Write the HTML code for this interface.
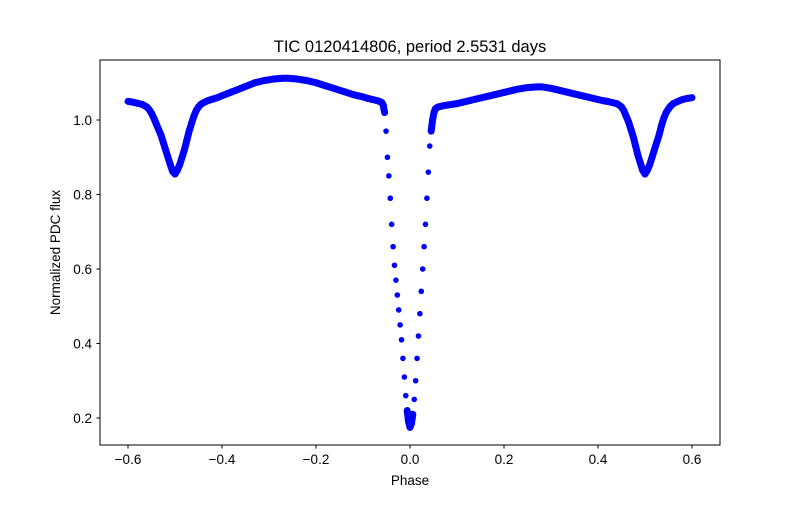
<!DOCTYPE html>
<html><head><meta charset="utf-8"><style>
body{margin:0;background:#fff;}
svg text{font-family:"Liberation Sans","DejaVu Sans",sans-serif;fill:#000;}
</style></head><body>
<svg id="chart" width="800" height="500">
<rect width="800" height="500" fill="#fff"/>
<text x="410" y="52" font-size="16.5" text-anchor="middle">TIC 0120414806, period 2.5531 days</text>
<g id="marks"></g>
<rect x="100" y="60" width="620" height="385" fill="none" stroke="#000" stroke-width="1"/>
<g id="axes"></g>
<text x="410" y="485" font-size="13.5" text-anchor="middle">Phase</text>
<text transform="translate(60,252.5) rotate(-90)" font-size="13.5" text-anchor="middle">Normalized PDC flux</text>
</svg>
<script>
const phase = [
-0.6,-0.59,-0.58,-0.57,-0.56,-0.555,-0.55,-0.545,-0.54,-0.535,
-0.53,-0.525,-0.52,-0.515,-0.51,-0.505,-0.5,-0.495,-0.49,-0.485,
-0.48,-0.475,-0.47,-0.465,-0.46,-0.455,-0.45,-0.445,-0.44,-0.43,
-0.42,-0.41,-0.4,-0.39,-0.38,-0.37,-0.36,-0.35,-0.34,-0.33,
-0.32,-0.31,-0.3,-0.29,-0.28,-0.27,-0.26,-0.25,-0.24,-0.23,
-0.22,-0.21,-0.2,-0.19,-0.18,-0.17,-0.16,-0.15,-0.14,-0.13,
-0.12,-0.11,-0.1,-0.09,-0.08,-0.07,-0.065,-0.06,-0.057,-0.054,
-0.051,-0.048,-0.045,-0.042,-0.039,-0.036,-0.033,-0.03,-0.027,-0.024,
-0.021,-0.018,-0.015,-0.012,-0.009,-0.006,-0.003,0,0.003,0.006,
0.009,0.012,0.015,0.018,0.021,0.024,0.027,0.03,0.033,0.036,
0.039,0.042,0.045,0.048,0.051,0.054,0.057,0.06,0.07,0.08,
0.09,0.1,0.11,0.12,0.13,0.14,0.15,0.16,0.17,0.18,
0.19,0.2,0.21,0.22,0.23,0.24,0.25,0.26,0.27,0.28,
0.29,0.3,0.31,0.32,0.33,0.34,0.35,0.36,0.37,0.38,
0.39,0.4,0.41,0.42,0.43,0.44,0.445,0.45,0.455,0.46,
0.465,0.47,0.475,0.48,0.485,0.49,0.495,0.5,0.505,0.51,
0.515,0.52,0.525,0.53,0.535,0.54,0.545,0.55,0.555,0.56,
0.57,0.58,0.59,0.6];
const flux = [
1.05,1.048,1.045,1.042,1.035,1.028,1.018,1.005,0.99,0.975,
0.96,0.94,0.92,0.9,0.88,0.862,0.855,0.865,0.88,0.9,
0.92,0.945,0.97,0.99,1.01,1.025,1.035,1.042,1.046,1.052,
1.056,1.06,1.065,1.07,1.075,1.08,1.085,1.09,1.095,1.1,
1.103,1.106,1.108,1.11,1.111,1.112,1.112,1.111,1.11,1.108,
1.106,1.103,1.1,1.096,1.092,1.088,1.084,1.08,1.076,1.072,
1.068,1.065,1.062,1.058,1.055,1.052,1.05,1.047,1.04,1.02,
0.97,0.9,0.85,0.79,0.72,0.66,0.61,0.57,0.53,0.49,
0.45,0.41,0.36,0.31,0.26,0.22,0.19,0.175,0.185,0.21,
0.25,0.3,0.36,0.42,0.48,0.54,0.6,0.66,0.72,0.79,
0.86,0.93,0.97,1.0,1.02,1.03,1.033,1.035,1.038,1.04,
1.042,1.044,1.047,1.05,1.053,1.056,1.059,1.062,1.065,1.068,
1.071,1.074,1.077,1.08,1.083,1.085,1.087,1.088,1.089,1.089,
1.087,1.085,1.082,1.079,1.076,1.073,1.07,1.067,1.064,1.061,
1.058,1.055,1.052,1.05,1.047,1.044,1.04,1.035,1.025,1.01,
0.995,0.975,0.955,0.93,0.905,0.885,0.865,0.855,0.865,0.88,
0.9,0.92,0.94,0.96,0.985,1.005,1.02,1.03,1.038,1.044,
1.05,1.055,1.058,1.06];
const xTicks = [-0.6,-0.4,-0.2,0,0.2,0.4,0.6];
const xTickLabels = ["−0.6","−0.4","−0.2","0.0","0.2","0.4","0.6"];
const yTicks = [0.2,0.4,0.6,0.8,1.0];
const yTickLabels = ["0.2","0.4","0.6","0.8","1.0"];

const NS="http://www.w3.org/2000/svg";
function xs(v){return 410+v*470;}
function ys(v){return 120+(1-v)*372.5;}
const marks=document.getElementById('marks');
const n=Math.min(phase.length,flux.length);
for(let i=1;i<n;i++){
  const x1=xs(phase[i-1]),y1=ys(flux[i-1]),x2=xs(phase[i]),y2=ys(flux[i]);
  if(Math.hypot(x2-x1,y2-y1)<14){
    const l=document.createElementNS(NS,'line');
    l.setAttribute('x1',x1);l.setAttribute('y1',y1);l.setAttribute('x2',x2);l.setAttribute('y2',y2);
    l.setAttribute('stroke','#0000ff');l.setAttribute('stroke-width','7');l.setAttribute('stroke-linecap','round');
    
    
    marks.appendChild(l);
  }
}
for(let i=0;i<n;i++){
  const c=document.createElementNS(NS,'circle');
  c.setAttribute('cx',xs(phase[i]));c.setAttribute('cy',ys(flux[i]));
  c.setAttribute('r',2.8);c.setAttribute('fill','#0000ff');
  
  
  marks.appendChild(c);
}
const axes=document.getElementById('axes');
xTicks.forEach((t,i)=>{
  const l=document.createElementNS(NS,'line');
  l.setAttribute('x1',xs(t));l.setAttribute('x2',xs(t));l.setAttribute('y1',445);l.setAttribute('y2',448.5);l.setAttribute('stroke','#000');
  
  
  axes.appendChild(l);
  const tx=document.createElementNS(NS,'text');
  tx.setAttribute('x',xs(t));tx.setAttribute('y',464);tx.setAttribute('font-size','13.5');tx.setAttribute('text-anchor','middle');
  tx.textContent=xTickLabels[i];
  
  
  axes.appendChild(tx);
});
yTicks.forEach((t,i)=>{
  const l=document.createElementNS(NS,'line');
  l.setAttribute('x1',96.5);l.setAttribute('x2',100);l.setAttribute('y1',ys(t));l.setAttribute('y2',ys(t));l.setAttribute('stroke','#000');
  
  
  axes.appendChild(l);
  const tx=document.createElementNS(NS,'text');
  tx.setAttribute('x',92);tx.setAttribute('y',ys(t)+5);tx.setAttribute('font-size','13.5');tx.setAttribute('text-anchor','end');
  tx.textContent=yTickLabels[i];
  
  
  axes.appendChild(tx);
});
</script>
</body></html>
